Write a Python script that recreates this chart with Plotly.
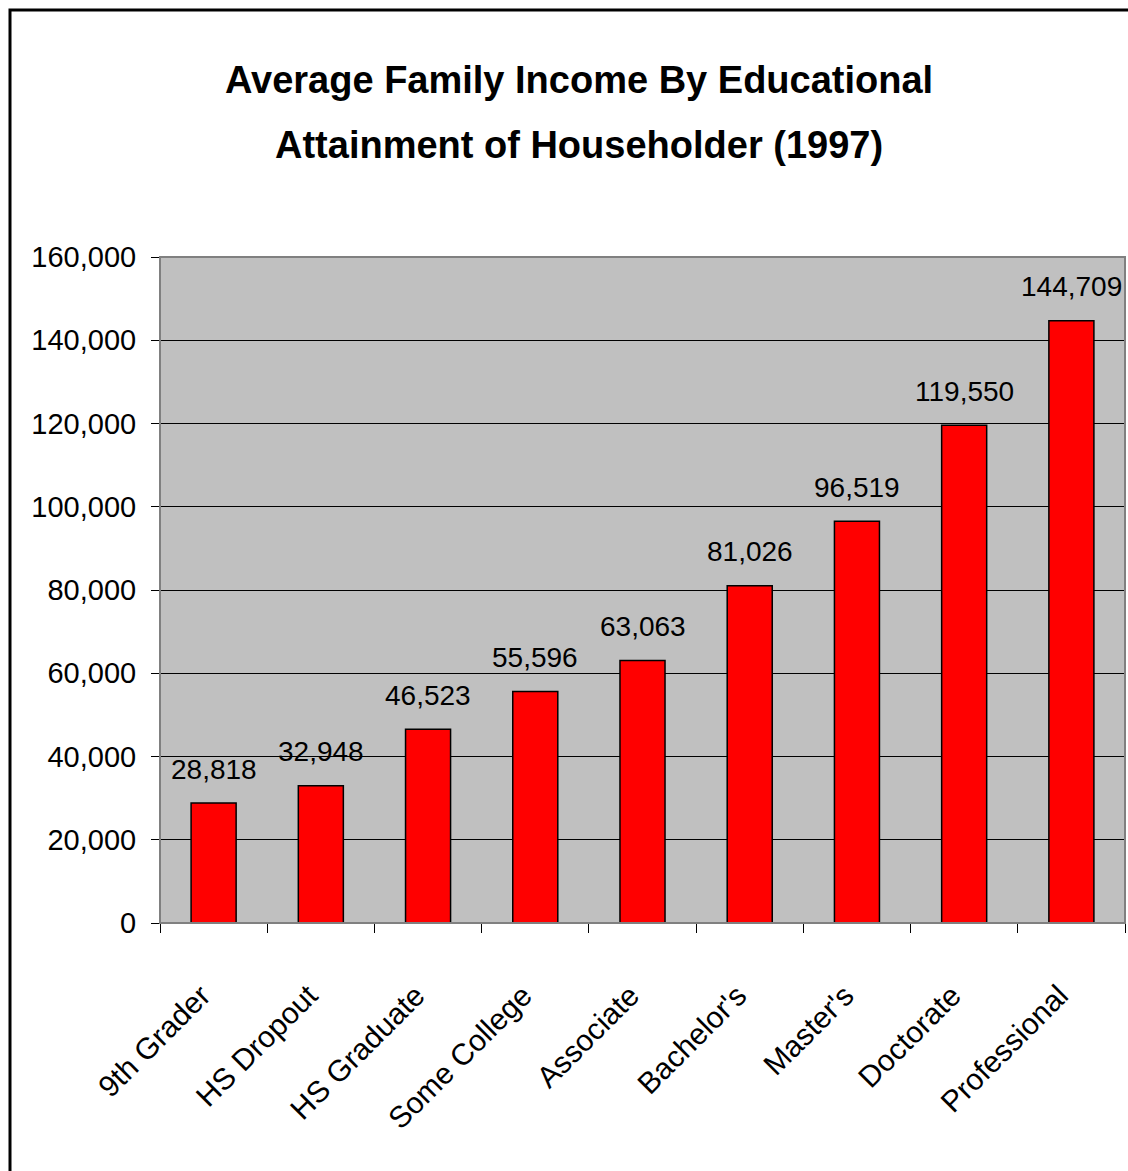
import plotly.graph_objects as go

categories = ["9th Grader", "HS Dropout", "HS Graduate", "Some College", "Associate",
              "Bachelor's", "Master's", "Doctorate", "Professional"]
values = [28818, 32948, 46523, 55596, 63063, 81026, 96519, 119550, 144709]
title_lines = ["Average Family Income By Educational", "Attainment of Householder (1997)"]

FONT = "Liberation Sans, Arial, sans-serif"

W, H = 1128, 1171
L, R, T, B = 160, 3, 257, 248
plot_h = H - T - B
plot_w = W - L - R

def py(pix):
    return (H - B - pix) / plot_h

def px(pix):
    return (pix - L) / plot_w

fig = go.Figure()
fig.add_trace(go.Bar(
    x=categories, y=values, width=0.42,
    marker=dict(color="#FF0000", line=dict(color="black", width=1.5)),
    hoverinfo="x+y",
))

annotations = []
for c, v in zip(categories, values):
    annotations.append(dict(x=c, y=v, xref="x", yref="y", text=f"{v:,}",
                            showarrow=False, yanchor="middle", yshift=34,
                            font=dict(family=FONT, size=28, color="black")))
for i, line in enumerate(title_lines):
    annotations.append(dict(x=px(579), y=py(80 + 65 * i), xref="paper", yref="paper",
                            text=line, showarrow=False, xanchor="center", yanchor="middle",
                            font=dict(family=FONT, size=38, color="black", weight="bold")))

fig.update_layout(
    width=W, height=H,
    margin=dict(l=L, r=R, t=T, b=B, pad=0),
    paper_bgcolor="white", plot_bgcolor="#C0C0C0",
    showlegend=False,
    annotations=annotations,
    shapes=[
        dict(type="rect", xref="paper", yref="paper", x0=0, x1=1, y0=0, y1=1,
             line=dict(color="#808080", width=2), layer="above"),
        dict(type="rect", xref="paper", yref="paper", x0=px(10), x1=px(1200), y0=py(10), y1=py(1250),
             line=dict(color="black", width=3), layer="above"),
    ],
    xaxis=dict(
        type="category", tickson="boundaries", ticks="outside", ticklen=9, tickcolor="black",
        tickangle=-45, showline=True, linecolor="black", linewidth=1, showgrid=False,
        tickfont=dict(family=FONT, size=30, color="black"),
        ticklabelstandoff=42, ticklabelshift=-12,
    ),
    yaxis=dict(
        range=[0, 160000], dtick=20000, tickformat=",", ticks="outside", ticklen=8,
        tickcolor="black", showline=True, linecolor="black", linewidth=1,
        showgrid=True, gridcolor="black", gridwidth=1, zeroline=True, zerolinecolor="black",
        tickfont=dict(family=FONT, size=29, color="black"),
        ticklabelstandoff=9,
    ),
    bargap=0.58,
)

fig.write_html("out.html", config={"displayModeBar": False})

with open("out.html", "r", encoding="utf-8") as f:
    html = f.read()
html = html.replace("<body>", '<body style="margin:0;padding:0;overflow:hidden">', 1)
with open("out.html", "w", encoding="utf-8") as f:
    f.write(html)
